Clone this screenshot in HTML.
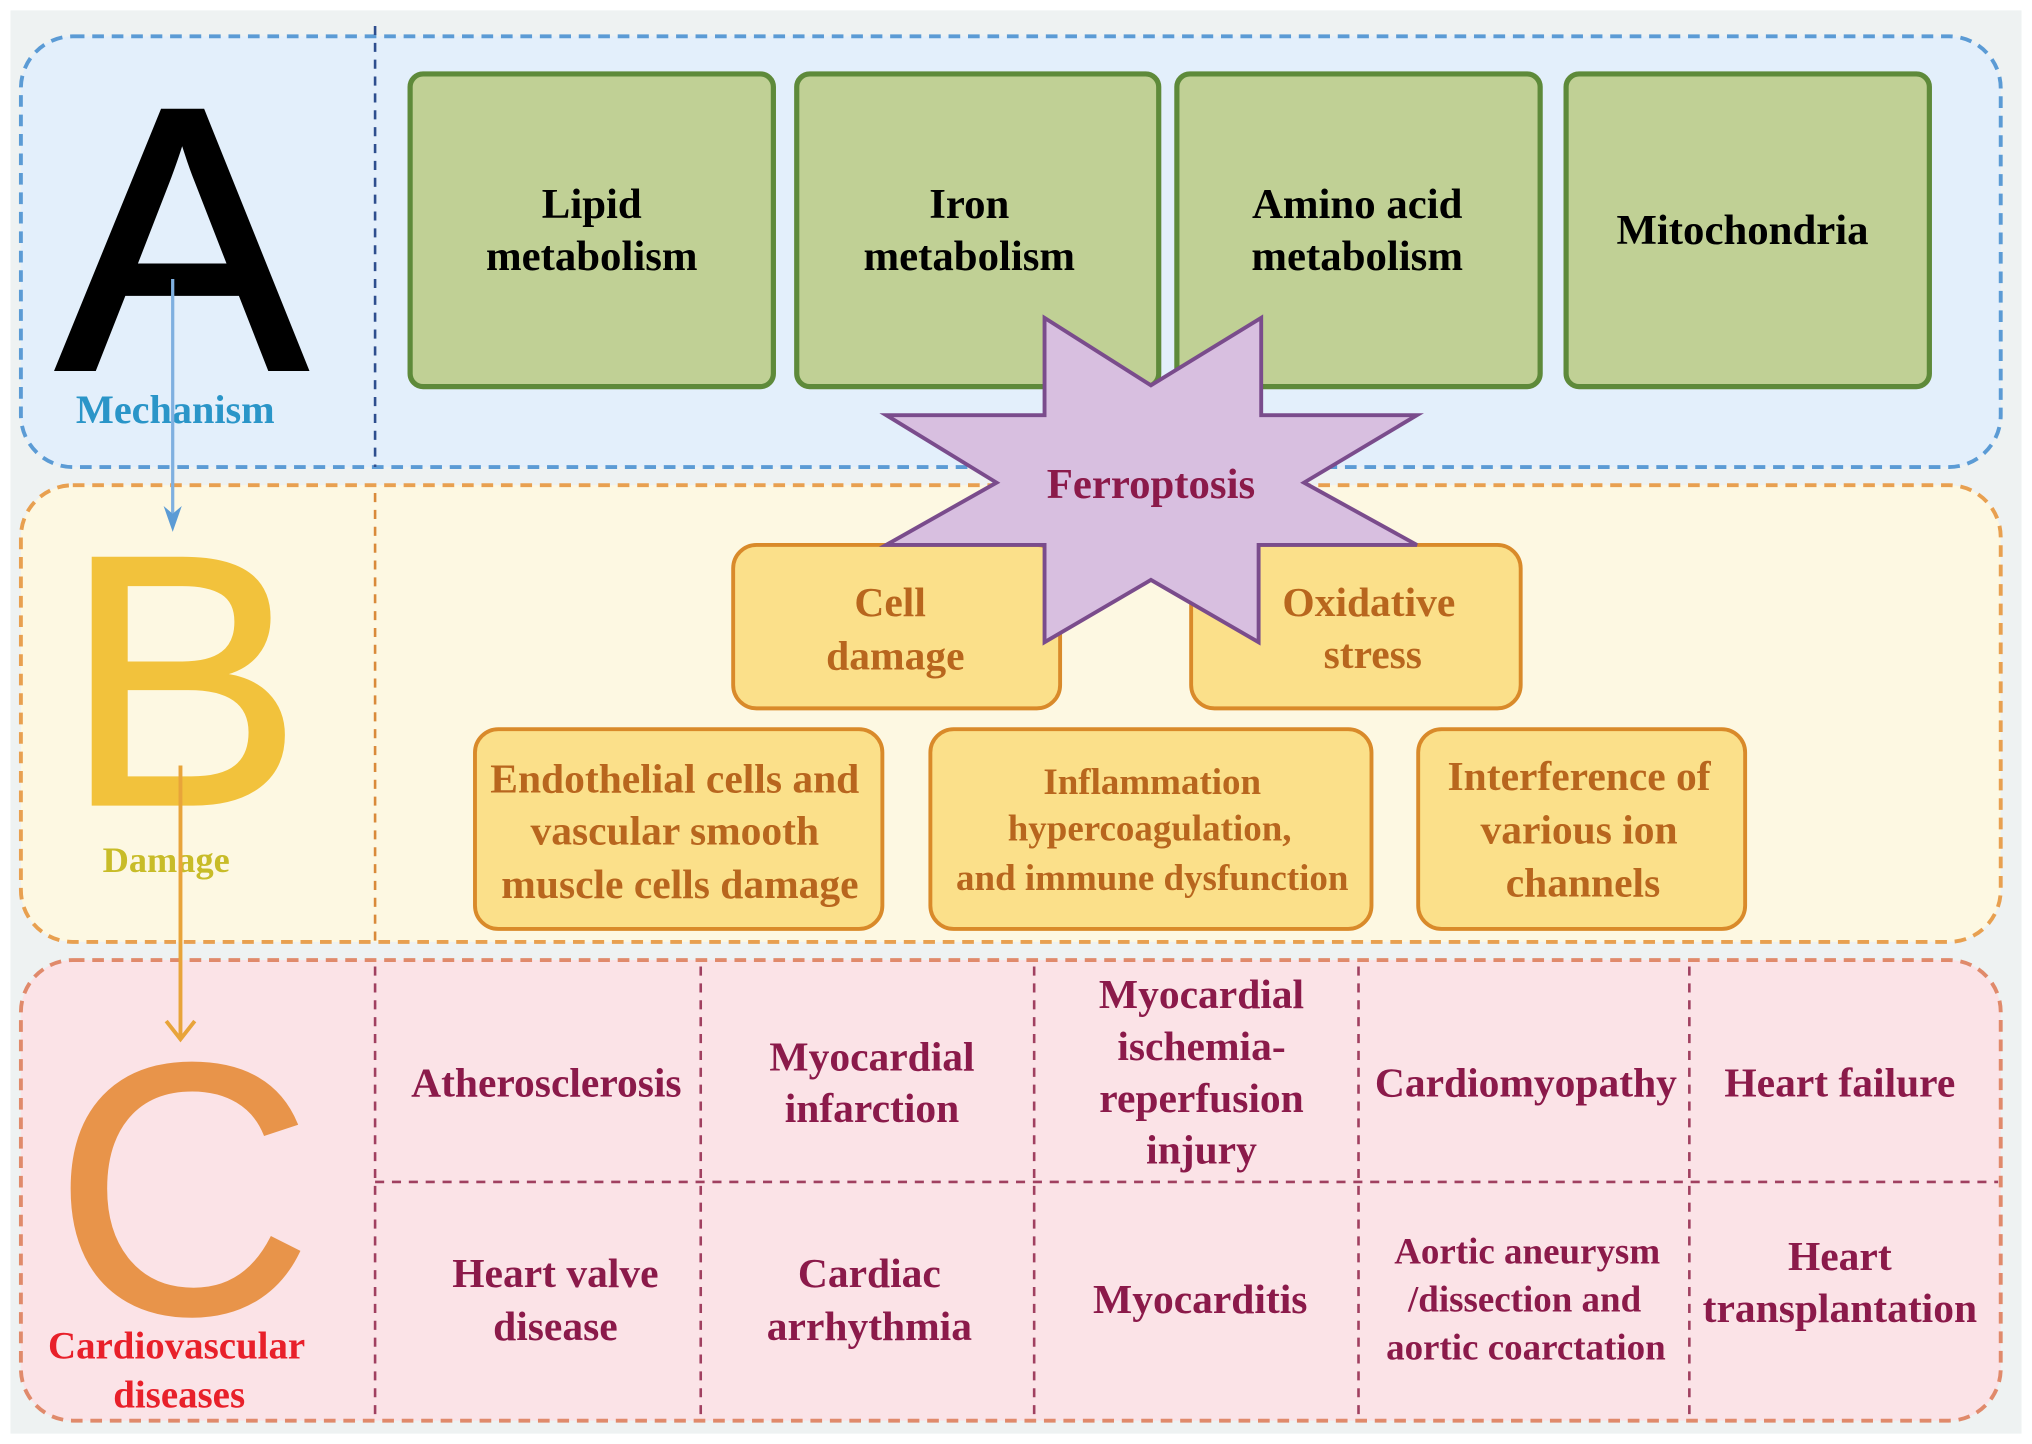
<!DOCTYPE html>
<html><head><meta charset="utf-8"><style>
html,body{margin:0;padding:0;background:#fff;}
svg{display:block;}
text{font-family:"Liberation Serif",serif;font-weight:bold;text-anchor:middle;}
</style></head><body>
<svg width="2032" height="1444" viewBox="0 0 1566 1113" xmlns="http://www.w3.org/2000/svg">
<rect x="8" y="8" width="1550" height="1097" fill="#eef2f2"/>
<!-- Panel A -->
<rect x="16" y="28" width="1526" height="332" rx="40" fill="#e3effb" stroke="#5b9bd5" stroke-width="3" stroke-dasharray="9,6"/>
<line x1="289" y1="20" x2="289" y2="360" stroke="#2e4e8e" stroke-width="2" stroke-dasharray="7,6"/>
<!-- Panel B -->
<rect x="16" y="374" width="1526" height="352" rx="40" fill="#fdf8e2" stroke="#e8a050" stroke-width="3" stroke-dasharray="9,6"/>
<line x1="289" y1="380" x2="289" y2="726" stroke="#d98a3a" stroke-width="2" stroke-dasharray="7,6"/>
<!-- Panel C -->
<rect x="16" y="740" width="1526" height="355" rx="40" fill="#fbe3e7" stroke="#e08a6b" stroke-width="3" stroke-dasharray="9,6"/>
<g stroke="#a04060" stroke-width="2" stroke-dasharray="7,6">
<line x1="289" y1="745" x2="289" y2="1092"/>
<line x1="289" y1="911" x2="1540" y2="911"/>
<line x1="540" y1="745" x2="540" y2="1092"/>
<line x1="797" y1="745" x2="797" y2="1092"/>
<line x1="1047" y1="745" x2="1047" y2="1092"/>
<line x1="1302" y1="745" x2="1302" y2="1092"/>
</g>
<!-- Big letters -->
<text x="140" y="284" style="font-family:'Liberation Sans',sans-serif;font-weight:normal" font-size="288" fill="#000" stroke="#000" stroke-width="4">A</text>
<text x="141" y="620" style="font-family:'Liberation Sans',sans-serif;font-weight:normal" font-size="276" fill="#f2c23c" stroke="#f2c23c" stroke-width="2">B</text>
<text x="141" y="1012" style="font-family:'Liberation Sans',sans-serif;font-weight:normal" font-size="276" fill="#e8944a" stroke="#e8944a" stroke-width="2">C</text>
<text x="135" y="326" font-size="31" fill="#2a95c8">Mechanism</text>
<text x="128" y="672" font-size="28" fill="#c8bc28">Damage</text>
<text x="136" y="1047" font-size="30" fill="#e8202a">Cardiovascular</text>
<text x="138" y="1085" font-size="30" fill="#e8202a">diseases</text>
<!-- arrows -->
<line x1="133" y1="215" x2="133" y2="400" stroke="#7fb0e0" stroke-width="2.5"/>
<polygon points="126,390 133,410 140,390 133,396" fill="#5b9bd5"/>
<line x1="139" y1="590" x2="139" y2="800" stroke="#e8a43a" stroke-width="3"/>
<path d="M128,787 L139,801 L150,787" fill="none" stroke="#e8a43a" stroke-width="3"/>
<!-- green boxes -->
<g fill="#c0d095" stroke="#5e8a3a" stroke-width="4">
<rect x="316" y="57" width="280" height="241" rx="10"/>
<rect x="614" y="57" width="279" height="241" rx="10"/>
<rect x="907" y="57" width="280" height="241" rx="10"/>
<rect x="1207" y="57" width="280" height="241" rx="10"/>
</g>
<g font-size="33" fill="#000">
<text x="456" y="168">Lipid</text><text x="456" y="208">metabolism</text>
<text x="747" y="168">Iron</text><text x="747" y="208">metabolism</text>
<text x="1046" y="168">Amino acid</text><text x="1046" y="208">metabolism</text>
<text x="1343" y="188">Mitochondria</text>
</g>
<!-- yellow boxes -->
<g fill="#fbe08a" stroke="#d98a2a" stroke-width="3">
<rect x="565" y="420" width="252" height="126" rx="18"/>
<rect x="918" y="420" width="254" height="126" rx="18"/>
<rect x="366" y="562" width="314" height="154" rx="18"/>
<rect x="717" y="562" width="340" height="154" rx="18"/>
<rect x="1093" y="562" width="252" height="154" rx="18"/>
</g>
<!-- star -->
<polygon points="805,245 887,297 972,245 972,320 1092,320 1005,372 1092,420 970,420 970,495 887,447 805,495 805,420 683,420 768,372 683,320 805,320" fill="#d8bfe0" stroke="#7a4c8c" stroke-width="3"/>
<text x="887" y="384" font-size="33" fill="#8b1a4a">Ferroptosis</text>
<g font-size="32" fill="#b8661e">
<text x="686" y="475">Cell</text><text x="690" y="516">damage</text>
<text x="1055" y="475">Oxidative</text><text x="1058" y="515">stress</text>
<text x="520" y="611">Endothelial cells and</text>
<text x="520" y="651">vascular smooth</text>
<text x="524" y="692">muscle cells damage</text>
<text x="1217" y="609">Interference of</text>
<text x="1217" y="650">various ion</text>
<text x="1220" y="691">channels</text>
</g>
<g font-size="28.5" fill="#b8661e">
<text x="888" y="612">Inflammation</text>
<text x="886" y="648">hypercoagulation,</text>
<text x="888" y="686">and immune dysfunction</text>
</g>
<!-- C texts -->
<g font-size="32" fill="#8b1a4a">
<text x="421" y="845">Atherosclerosis</text>
<text x="672" y="825">Myocardial</text><text x="672" y="865">infarction</text>
<text x="926" y="777">Myocardial</text><text x="926" y="817">ischemia-</text><text x="926" y="857">reperfusion</text><text x="926" y="897">injury</text>
<text x="1176" y="845">Cardiomyopathy</text>
<text x="1418" y="845">Heart failure</text>
<text x="428" y="992">Heart valve</text><text x="428" y="1033">disease</text>
<text x="670" y="992">Cardiac</text><text x="670" y="1033">arrhythmia</text>
<text x="925" y="1012">Myocarditis</text>
<text x="1418" y="979">Heart</text><text x="1418" y="1019">transplantation</text>
</g>
<g font-size="28.5" fill="#8b1a4a">
<text x="1177" y="974">Aortic aneurysm</text>
<text x="1175" y="1011">/dissection and</text>
<text x="1176" y="1048">aortic coarctation</text>
</g>
</svg>
</body></html>
